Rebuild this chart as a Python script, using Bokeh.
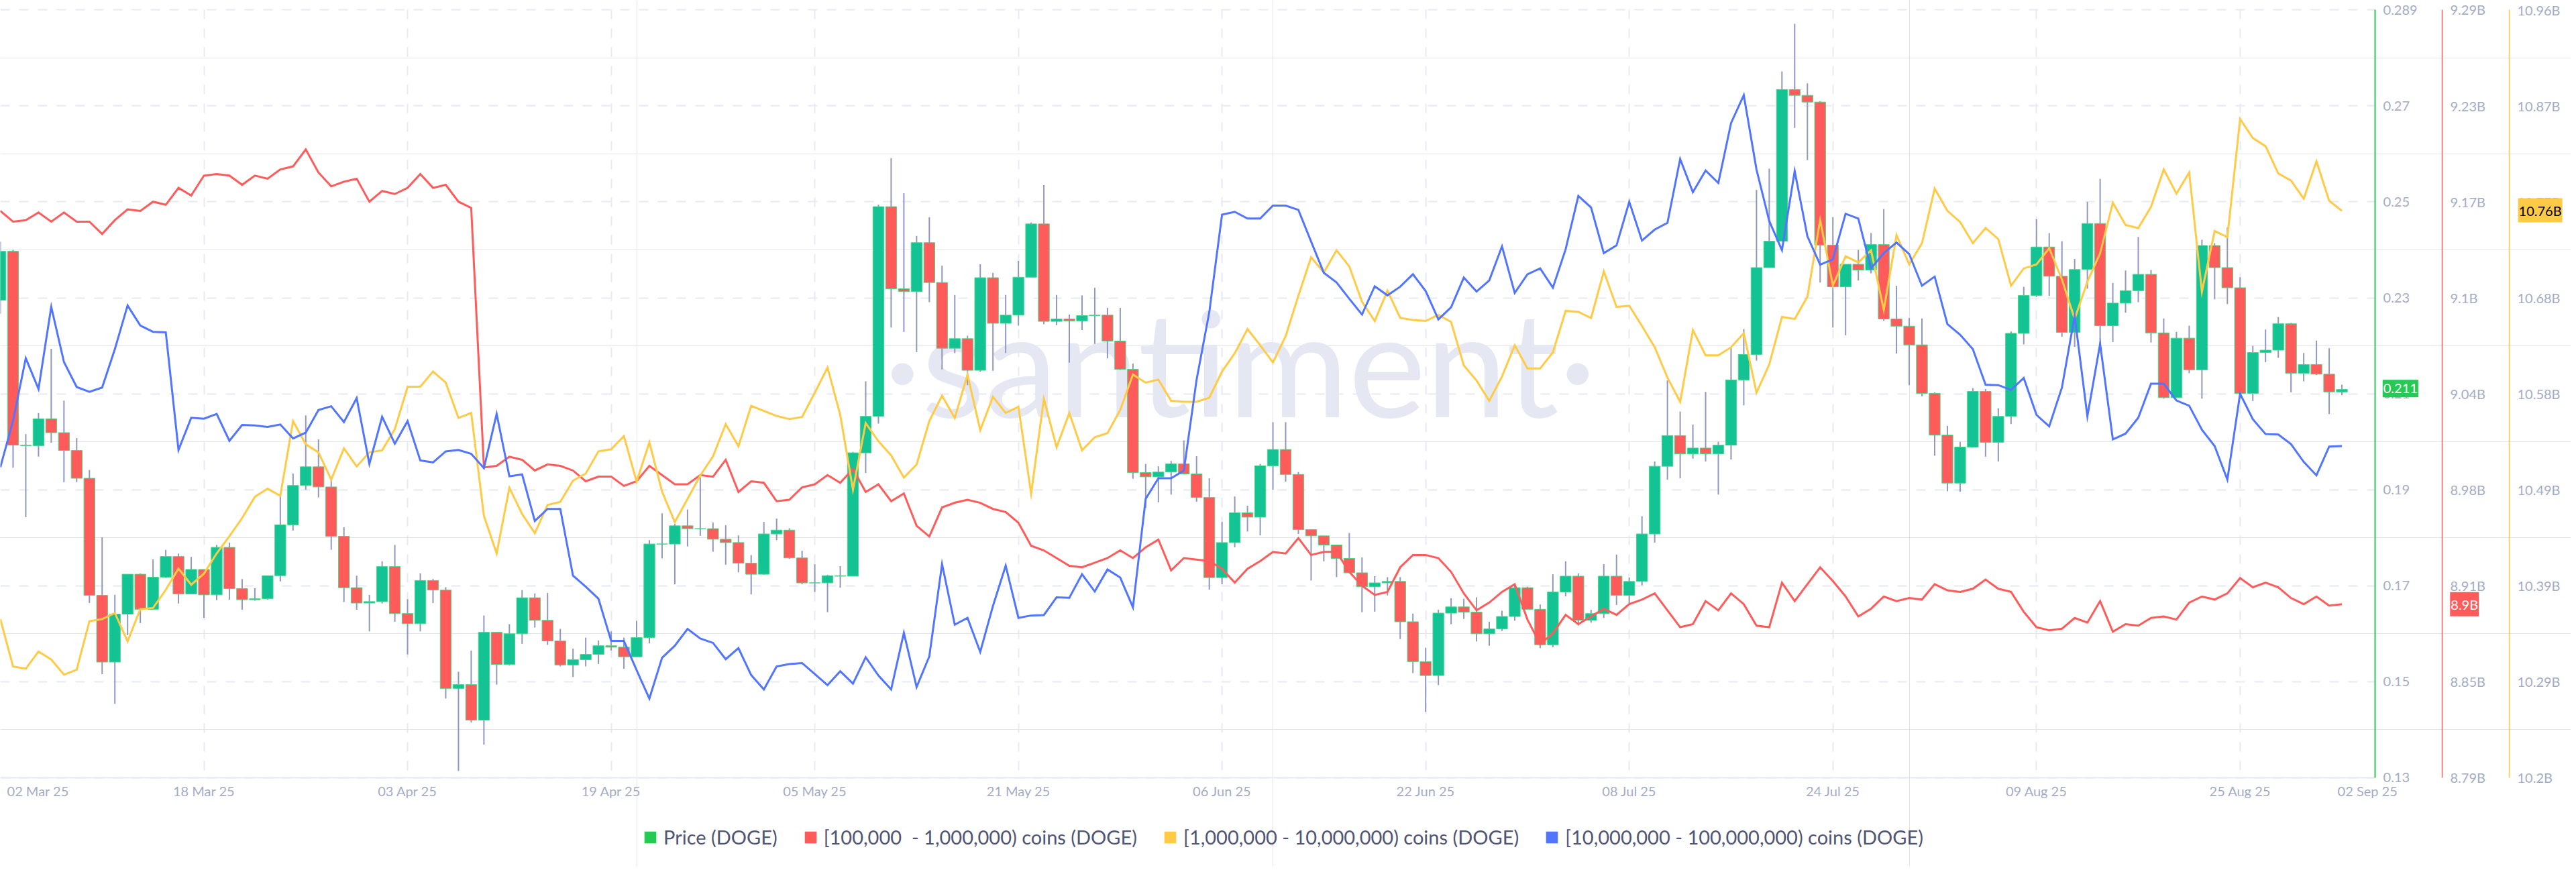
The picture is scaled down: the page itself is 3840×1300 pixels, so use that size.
from bokeh.plotting import figure
from bokeh.models import (Range1d, LinearAxis, FixedTicker, Label, Legend, LegendItem, Grid)
from bokeh.embed import file_html
from bokeh.resources import INLINE

# ---------- data ----------
first_open = 0.2295
closes = [.2397,.1993,.1992,.2048,.2019,.1982,.1924,.1680,.1541,.1641,
 .1724,.1651,.1718,.1761,.1683,.1734,.1681,.1780,.1694,.1671,
 .1673,.1721,.1827,.1909,.1948,.1906,.1803,.1696,.1664,.1667,
 .1740,.1642,.1621,.1711,.1691,.1486,.1494,.1420,.1603,.1536,
 .1600,.1675,.1628,.1585,.1535,.1546,.1557,.1575,.1572,.1552,
 .1592,.1787,.1787,.1825,.1819,.1819,.1797,.1790,.1747,.1724,
 .1808,.1816,.1758,.1706,.1706,.1721,.1720,.1977,.2053,.2490,
 .2319,.2313,.2415,.2332,.2195,.2215,.2149,.2342,.2247,.2264,
 .2343,.2454,.2251,.2256,.2252,.2263,.2264,.2210,.2151,.1936,
 .1927,.1937,.1954,.1933,.1884,.1717,.1790,.1852,.1843,.1950,
 .1984,.1932,.1817,.1804,.1785,.1757,.1727,.1698,.1706,.1709,
 .1625,.1542,.1513,.1643,.1656,.1645,.1600,.1610,.1636,.1696,
 .1651,.1577,.1687,.1720,.1628,.1642,.1720,.1680,.1709,.1808,
 .1949,.2013,.1975,.1987,.1975,.1993,.2129,.2182,.2363,.2418,
 .2734,.2722,.2708,.2410,.2323,.2370,.2358,.2411,.2256,.2241,
 .2202,.2101,.2014,.1914,.1989,.2105,.1999,.2053,.2226,.2305,
 .2406,.2345,.2228,.2359,.2455,.2242,.2289,.2315,.2349,.2227,
 .2092,.2216,.2150,.2409,.2363,.2321,.2101,.2186,.2191,.2246,
 .2143,.2161,.2141,.2104,.2109]
highs = [.2417,.2400,.2016,.2060,.2194,.2086,.2008,.1941,.1801,.1681,
 .1724,.1726,.1755,.1775,.1767,.1760,.1734,.1785,.1790,.1714,
 .1695,.1721,.1888,.1934,.2055,.2005,.1921,.1822,.1721,.1681,
 .1751,.1785,.1672,.1726,.1714,.1697,.1521,.1565,.1638,.1603,
 .1620,.1691,.1684,.1685,.1610,.1569,.1592,.1586,.1605,.1592,
 .1627,.1795,.1851,.1829,.1859,.1926,.1832,.1826,.1805,.1764,
 .1833,.1840,.1820,.1773,.1745,.1723,.1741,.1979,.2126,.2494,
 .2591,.2518,.2429,.2468,.2367,.2306,.2221,.2370,.2352,.2306,
 .2377,.2457,.2535,.2306,.2265,.2305,.2321,.2279,.2279,.2163,
 .1954,.1949,.1960,.2003,.1970,.1924,.1833,.1886,.1867,.1954,
 .2041,.2041,.1937,.1817,.1804,.1785,.1810,.1759,.1720,.1718,
 .1718,.1642,.1571,.1650,.1674,.1673,.1676,.1625,.1648,.1701,
 .1698,.1661,.1724,.1751,.1726,.1650,.1745,.1765,.1717,.1845,
 .1959,.2128,.2063,.2036,.2104,.2000,.2195,.2235,.2525,.2569,
 .2772,.2871,.2747,.2710,.2468,.2370,.2400,.2435,.2485,.2325,
 .2258,.2257,.2103,.2033,.2000,.2112,.2110,.2070,.2230,.2323,
 .2464,.2435,.2418,.2381,.2500,.2548,.2331,.2357,.2427,.2358,
 .2257,.2229,.2242,.2421,.2414,.2447,.2343,.2200,.2234,.2260,
 .2248,.2185,.2211,.2195,.2119]
lows = [.2267,.1946,.1843,.1969,.1998,.1916,.1916,.1664,.1516,.1454,
 .1597,.1622,.1650,.1716,.1663,.1683,.1633,.1670,.1671,.1650,
 .1669,.1671,.1709,.1815,.1900,.1884,.1775,.1666,.1650,.1605,
 .1663,.1625,.1557,.1605,.1664,.1465,.1314,.1415,.1369,.1494,
 .1534,.1579,.1613,.1577,.1532,.1510,.1532,.1537,.1565,.1527,
 .1552,.1580,.1757,.1703,.1782,.1804,.1771,.1744,.1728,.1682,
 .1723,.1795,.1756,.1703,.1687,.1645,.1696,.1720,.1935,.2038,
 .2238,.2229,.2187,.2291,.2151,.2185,.2118,.2146,.2148,.2185,
 .2242,.2343,.2245,.2243,.2165,.2233,.2204,.2174,.2150,.1923,
 .1862,.1874,.1890,.1932,.1875,.1692,.1703,.1780,.1813,.1805,
 .1900,.1917,.1808,.1711,.1751,.1718,.1726,.1645,.1646,.1680,
 .1589,.1518,.1437,.1493,.1620,.1631,.1584,.1575,.1606,.1627,
 .1651,.1570,.1572,.1678,.1617,.1623,.1633,.1660,.1663,.1701,
 .1790,.1921,.1924,.1965,.1959,.1890,.1963,.2076,.2169,.2363,
 .2418,.2654,.2587,.2332,.2238,.2222,.2336,.2351,.2252,.2184,
 .2118,.2095,.1971,.1897,.1896,.1988,.1969,.1959,.2037,.2203,
 .2302,.2304,.2219,.2198,.2319,.2198,.2208,.2269,.2291,.2207,
 .2090,.2091,.2143,.2090,.2297,.2287,.2095,.2085,.2166,.2175,
 .2103,.2126,.2139,.2058,.2097]
red_b = [9.159,9.152,9.153,9.158,9.152,9.158,9.152,9.152,9.144,9.153,
 9.160,9.159,9.165,9.163,9.174,9.169,9.182,9.183,9.182,9.176,
 9.182,9.180,9.186,9.188,9.199,9.184,9.175,9.178,9.180,9.165,
 9.172,9.170,9.174,9.183,9.174,9.176,9.165,9.161,8.992,8.993,
 8.999,8.997,8.990,8.994,8.993,8.990,8.983,8.986,8.986,8.980,
 8.983,8.993,8.987,8.981,8.981,8.987,8.986,8.997,8.976,8.983,
 8.982,8.970,8.971,8.979,8.981,8.987,8.982,8.991,8.976,8.981,
 8.970,8.975,8.954,8.947,8.966,8.969,8.971,8.969,8.965,8.963,
 8.956,8.941,8.938,8.933,8.928,8.927,8.930,8.933,8.938,8.933,
 8.940,8.945,8.925,8.933,8.932,8.931,8.926,8.917,8.926,8.931,
 8.937,8.936,8.946,8.935,8.937,8.937,8.924,8.915,8.909,8.911,
 8.927,8.935,8.935,8.933,8.924,8.910,8.899,8.904,8.911,8.916,
 8.893,8.877,8.884,8.896,8.890,8.895,8.900,8.896,8.903,8.906,
 8.910,8.899,8.888,8.890,8.905,8.899,8.910,8.903,8.889,8.888,
 8.917,8.905,8.916,8.927,8.918,8.908,8.895,8.900,8.908,8.905,
 8.907,8.906,8.916,8.912,8.911,8.913,8.919,8.913,8.911,8.898,
 8.888,8.886,8.887,8.894,8.891,8.905,8.885,8.890,8.889,8.894,
 8.895,8.893,8.904,8.908,8.906,8.910,8.920,8.914,8.917,8.914,
 8.907,8.903,8.908,8.902,8.903]
yellow_b = [10.357,10.310,10.308,10.325,10.317,10.302,10.307,10.355,10.357,10.363,
 10.335,10.367,10.368,10.386,10.407,10.391,10.402,10.422,10.439,10.457,
 10.478,10.486,10.479,10.553,10.530,10.522,10.495,10.526,10.508,10.522,
 10.524,10.545,10.587,10.587,10.602,10.591,10.556,10.561,10.459,10.422,
 10.487,10.461,10.442,10.470,10.473,10.494,10.501,10.523,10.525,10.538,
 10.493,10.532,10.483,10.453,10.476,10.499,10.518,10.550,10.528,10.568,
 10.563,10.558,10.555,10.557,10.581,10.606,10.559,10.485,10.551,10.533,
 10.519,10.497,10.510,10.553,10.578,10.556,10.599,10.544,10.577,10.561,
 10.567,10.481,10.575,10.527,10.561,10.524,10.537,10.541,10.564,10.599,
 10.591,10.594,10.573,10.572,10.572,10.576,10.602,10.620,10.644,10.628,
 10.611,10.637,10.677,10.715,10.700,10.722,10.706,10.671,10.652,10.682,
 10.655,10.653,10.652,10.658,10.651,10.608,10.593,10.573,10.597,10.628,
 10.605,10.605,10.621,10.662,10.661,10.655,10.701,10.666,10.667,10.647,
 10.626,10.596,10.572,10.643,10.618,10.618,10.626,10.640,10.581,10.609,
 10.656,10.654,10.676,10.752,10.687,10.716,10.710,10.722,10.663,10.737,
 10.708,10.729,10.783,10.761,10.750,10.729,10.744,10.733,10.687,10.704,
 10.708,10.724,10.693,10.654,10.691,10.719,10.769,10.747,10.744,10.765,
 10.802,10.778,10.799,10.681,10.741,10.735,10.852,10.833,10.825,10.798,
 10.791,10.773,10.810,10.771,10.761]
blue_b = [19.47,20.44,21.74,21.10,22.81,21.66,21.14,21.04,21.13,21.93,
 22.84,22.42,22.29,22.28,19.83,20.50,20.48,20.58,20.02,20.35,
 20.34,20.31,20.36,20.07,20.19,20.66,20.74,20.41,20.91,19.54,
 20.52,19.96,20.43,19.61,19.57,19.80,19.83,19.75,19.45,20.58,
 19.28,19.32,18.35,18.60,18.60,17.21,16.98,16.73,15.85,15.85,
 15.24,14.65,15.50,15.75,16.10,15.90,15.81,15.47,15.70,15.14,
 14.84,15.32,15.37,15.39,15.16,14.93,15.22,14.96,15.51,15.13,
 14.84,16.02,14.89,15.53,17.45,16.19,16.33,15.62,16.58,17.42,
 16.33,16.38,16.39,16.76,16.75,17.24,16.88,17.34,17.17,16.55,
 18.81,19.24,19.24,19.40,21.29,22.70,24.73,24.79,24.65,24.65,
 24.92,24.92,24.83,24.17,23.52,23.32,22.98,22.65,23.24,23.05,
 23.23,23.49,23.14,22.55,22.80,23.42,23.13,23.36,24.07,23.10,
 23.49,23.61,23.21,24.01,25.12,24.88,23.93,24.09,25.00,24.19,
 24.42,24.56,25.89,25.20,25.65,25.39,26.64,27.22,25.67,24.60,
 23.99,25.64,24.28,23.69,23.80,24.75,24.65,23.61,23.93,24.15,
 23.91,23.25,23.44,22.45,22.23,21.93,21.19,21.18,21.08,21.33,
 20.56,20.32,21.13,22.62,20.53,22.04,20.05,20.17,20.50,21.21,
 21.21,20.86,20.75,20.25,19.91,19.21,21.00,20.47,20.16,20.15,
 19.95,19.58,19.30,19.90,19.91]

date_ticks = [16, 32, 48, 64, 80, 96, 112, 128, 144, 160, 176]
date_labels = ["18 Mar 25", "03 Apr 25", "19 Apr 25", "05 May 25", "21 May 25", "06 Jun 25",
               "22 Jun 25", "08 Jul 25", "24 Jul 25", "09 Aug 25", "25 Aug 25"]
price_ticks = [.13, .15, .17, .19, .21, .23, .25, .27, .29]
price_labels = ["0.13", "0.15", "0.17", "0.19", "0.21", "0.23", "0.25", "0.27", "0.289"]
red_ticks = [8.79, 8.8525, 8.915, 8.9775, 9.04, 9.1025, 9.165, 9.2275, 9.29]
red_labels = ["8.79B", "8.85B", "8.91B", "8.98B", "9.04B", "9.1B", "9.17B", "9.23B", "9.29B"]
yellow_ticks = [10.2, 10.295, 10.39, 10.485, 10.58, 10.675, 10.77, 10.865, 10.96]
yellow_labels = ["10.2B", "10.29B", "10.39B", "10.49B", "10.58B", "10.68B", "10.77B", "10.87B", "10.96B"]
legend_names = ["Price (DOGE)", "[100,000  - 1,000,000) coins (DOGE)",
                "[1,000,000 - 10,000,000) coins (DOGE)", "[10,000,000 - 100,000,000) coins (DOGE)"]

# ---------- style ----------
GREEN, RED, YELLOW, BLUE = "#26C953", "#FF5B5B", "#FFCB47", "#5275FF"
BODY_UP, BODY_DOWN, BODY_EDGE, WICK = "#14C393", "#FF5B5B", "#4AD68A", "#9098BE"
GRID, TICK, LEGEND_TXT = "#E7EAF3", "#A4ACC4", "#505573"
FONT = "Lato"

# the frame fills the whole figure; the axes are pinned with fixed_location
p = figure(width=3832, height=1292, output_backend="svg", toolbar_location=None,
           x_range=Range1d(0, 202.0), y_range=Range1d(.1114, .2920),
           x_axis_location=None, y_axis_location=None,
           min_border_left=0, min_border_top=0, min_border_right=0, min_border_bottom=0,
           outline_line_color=None, background_fill_color="white", border_fill_color="white")
p.extra_y_ranges = {"red": Range1d(8.7319, 9.2961), "yellow": Range1d(10.1117, 10.9693),
                    "blue": Range1d(11.1415, 29.196)}


def make_y_axis(ticks, labels, color, lw, loc, bounds, range_name="default"):
    ax = LinearAxis(y_range_name=range_name, fixed_location=loc, bounds=bounds)
    ax.ticker = FixedTicker(ticks=ticks)
    ax.major_label_overrides = dict(zip(ticks, labels))
    ax.axis_line_color = color
    ax.axis_line_width = lw
    ax.major_tick_line_color = None
    ax.minor_tick_line_color = None
    ax.major_tick_out = 0
    ax.major_tick_in = 0
    ax.major_label_standoff = 12
    ax.major_label_text_color = TICK
    ax.major_label_text_font = FONT
    ax.major_label_text_font_size = "20px"
    p.add_layout(ax, "right")


make_y_axis(price_ticks, price_labels, GREEN, 2, 186.61, (.13, .29))
make_y_axis(red_ticks, red_labels, RED, 1.5, 191.88, (8.79, 9.29), "red")
make_y_axis(yellow_ticks, yellow_labels, YELLOW, 1.5, 197.15, (10.2, 10.96), "yellow")

xa = LinearAxis(fixed_location=.13, bounds=(0, 186.61))
xa.ticker = FixedTicker(ticks=date_ticks)
xa.major_label_overrides = dict(zip(date_ticks, date_labels))
xa.axis_line_color = GRID
xa.axis_line_width = 2
xa.major_tick_line_color = None
xa.minor_tick_line_color = None
xa.major_tick_out = 0
xa.major_tick_in = 0
xa.major_label_standoff = 8
xa.major_label_text_color = TICK
xa.major_label_text_font = FONT
xa.major_label_text_font_size = "20px"
p.add_layout(xa, "below")

xg = Grid(dimension=0, ticker=FixedTicker(ticks=date_ticks), cross_bounds=(.1315, .29))
yg = Grid(dimension=1, ticker=FixedTicker(ticks=price_ticks), cross_bounds=(0, 186.61))
for g in (xg, yg):
    g.grid_line_color = GRID
    g.grid_line_width = 2
    g.grid_line_dash = "14 14"
    p.add_layout(g)

# watermark
p.add_layout(Label(x=69.4, y=.2170, text="·santiment·", text_font="Lato", text_font_size="218px",
                   text_color="#E5E8F2", text_baseline="alphabetic", level="underlay"))

# candles
days = list(range(len(closes)))
opens = [first_open] + closes[:-1]
up = [i for i in days if closes[i] >= opens[i]]
down = [i for i in days if closes[i] < opens[i]]
p.segment(x0=days, y0=lows, x1=days, y1=highs, line_color=WICK, line_width=2)
p.vbar(x=up, width=0.86, bottom=[opens[i] for i in up], top=[closes[i] for i in up],
       fill_color=BODY_UP, line_color=BODY_EDGE, line_width=1)
p.vbar(x=down, width=0.86, bottom=[closes[i] for i in down], top=[opens[i] for i in down],
       fill_color=BODY_DOWN, line_color=BODY_EDGE, line_width=1)

# lines
p.line(days, red_b, y_range_name="red", line_color=RED, line_width=3, line_join="miter")
p.line(days, yellow_b, y_range_name="yellow", line_color=YELLOW, line_width=3, line_join="miter")
p.line(days, blue_b, y_range_name="blue", line_color=BLUE, line_width=3, line_join="miter")

# edge date labels
for x, t in ((0.53, "02 Mar 25"), (183.66, "02 Sep 25")):
    p.add_layout(Label(x=x, y=.1272, text=t, text_color=TICK, text_font=FONT, text_font_size="20px",
                       text_baseline="middle", text_align="left"))

# last-value tags
p.add_layout(Label(x=187.2, y=.2111, text="0.211", text_color="white", text_font=FONT, text_font_size="20px",
                   text_baseline="middle", background_fill_color=GREEN, padding=(1, 6)))
p.add_layout(Label(x=192.5, y=8.903, y_range_name="red", text="8.9B", text_color="white", text_font=FONT,
                   text_font_size="20px", text_baseline="middle", background_fill_color=RED, padding=(1, 6)))
p.add_layout(Label(x=197.84, y=10.7615, y_range_name="yellow", text="10.76B", text_color="black", text_font=FONT,
                   text_font_size="20px", text_baseline="middle", background_fill_color=YELLOW, padding=(1, 6)))

# legend
items = []
for name, col in zip(legend_names, (GREEN, RED, YELLOW, BLUE)):
    r = p.quad(left=[float("nan")], right=[float("nan")], top=[float("nan")], bottom=[float("nan")],
               fill_color=col, line_color=None)
    items.append(LegendItem(label=name, renderers=[r]))
legend = Legend(items=items, orientation="horizontal", location=(958, 27), padding=0, margin=0,
                spacing=38, label_standoff=9, glyph_width=22, glyph_height=22,
                border_line_color=None, background_fill_color=None, background_fill_alpha=0,
                label_text_font=FONT, label_text_font_size="29px", label_text_color=LEGEND_TXT)
p.add_layout(legend, "center")

open("out.html", "w").write(file_html(p, INLINE))
